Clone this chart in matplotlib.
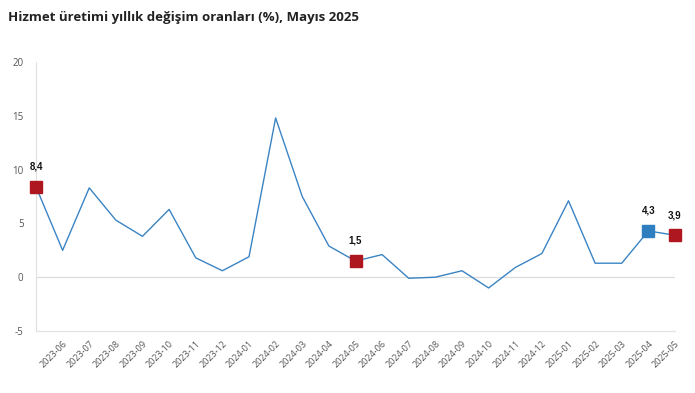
import matplotlib
matplotlib.use("Agg")
import matplotlib.pyplot as plt

months = ["2023-05", "2023-06", "2023-07", "2023-08", "2023-09", "2023-10", "2023-11",
          "2023-12", "2024-01", "2024-02", "2024-03", "2024-04", "2024-05", "2024-06",
          "2024-07", "2024-08", "2024-09", "2024-10", "2024-11", "2024-12", "2025-01",
          "2025-02", "2025-03", "2025-04", "2025-05"]
values = [8.4, 2.5, 8.3, 5.3, 3.8, 6.3, 1.8, 0.6, 1.9, 14.8, 7.5, 2.9, 1.5, 2.1,
          -0.1, 0.0, 0.6, -1.0, 0.9, 2.2, 7.1, 1.3, 1.3, 4.3, 3.9]
red_points = ["2023-05", "2024-05", "2025-05"]
blue_points = ["2025-04"]
yticks = [-5, 0, 5, 10, 15, 20]

plt.rcParams['font.family'] = ['Open Sans', 'DejaVu Sans']

fig = plt.figure(figsize=(6.95, 3.93), dpi=100)
ax = fig.add_axes([36/695, 1-331/393, (675-36)/695, (331-62)/393])

x = list(range(len(months)))
line_col = "#3B84C4"
ax.plot(x, values, color=line_col, lw=1.0, zorder=3)

for m in red_points + blue_points:
    i = months.index(m)
    c = "#AE1720" if m in red_points else "#2F7EBF"
    ax.plot(i, values[i], marker="s", ms=8, color=c, mec=c, zorder=4, clip_on=False)
    ax.text(i, values[i] + 1.4, f"{values[i]:.1f}".replace(".", ","), ha="center", va="bottom",
            fontsize=7, fontweight="bold", color="#111111", zorder=5, clip_on=False,
            family=["Liberation Sans", "DejaVu Sans"])

ax.set_xlim(0, len(months) - 1)
ax.set_ylim(-5, 20)
ax.set_yticks(yticks)
ax.set_yticklabels([str(v) for v in yticks], fontsize=7, color="#555555")
ax.set_xticks(x[1:])
ax.set_xticklabels(months[1:], rotation=45, ha="right", rotation_mode="anchor",
                   fontsize=6.5, color="#555555")
ax.tick_params(axis="both", length=0)
ax.tick_params(axis="y", pad=9)
ax.tick_params(axis="x", pad=6)

for s in ["top", "right", "bottom"]:
    ax.spines[s].set_visible(False)
ax.spines["left"].set_color("#E0E0E0")
ax.spines["left"].set_linewidth(0.8)
ax.axhline(0, color="#DDDDDD", lw=0.9, zorder=1)
ax.axhline(-5, color="#E3E3E3", lw=0.9, zorder=1, clip_on=False)

fig.text(8/695, 1-18/393, "Hizmet üretimi yıllık değişim oranları (%), Mayıs 2025",
         fontsize=9.5, fontweight="bold", color="#222222", va="center", ha="left")

fig.savefig("out.png", dpi=100)
